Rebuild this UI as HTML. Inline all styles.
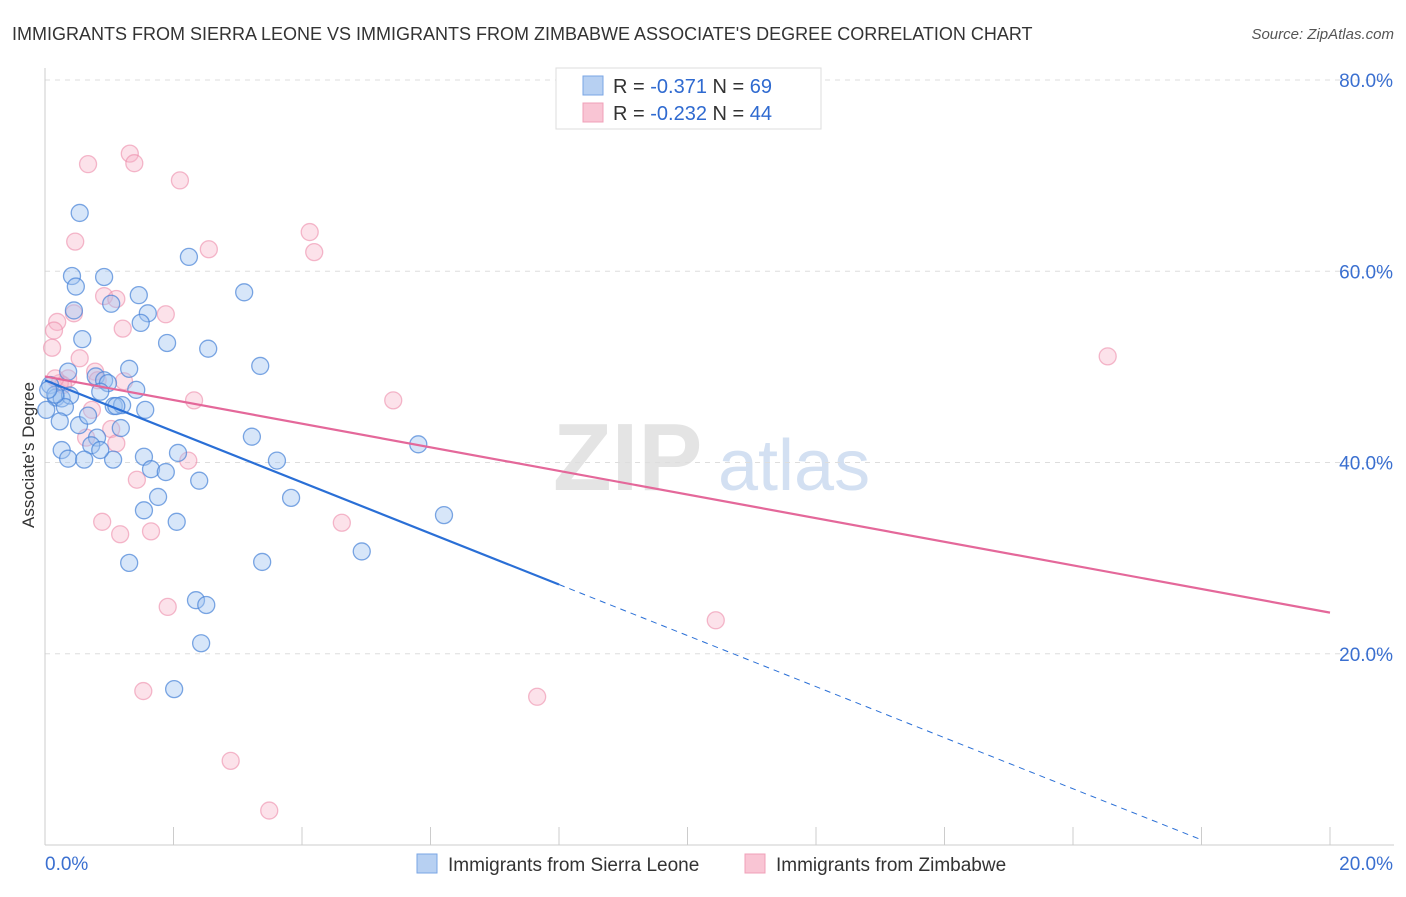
<!DOCTYPE html>
<html><head><meta charset="utf-8">
<style>
body{margin:0;background:#fff;font-family:"Liberation Sans",sans-serif;}
svg text{font-family:"Liberation Sans",sans-serif;}
</style></head>
<body>
<svg id="chart" width="1406" height="892" viewBox="0 0 1406 892" xmlns="http://www.w3.org/2000/svg">
<text x="12" y="40" font-size="18" fill="#333">IMMIGRANTS FROM SIERRA LEONE VS IMMIGRANTS FROM ZIMBABWE ASSOCIATE'S DEGREE CORRELATION CHART</text>
<text x="1394" y="39" font-size="15" fill="#555" font-style="italic" text-anchor="end">Source: ZipAtlas.com</text>
<g>
<text x="553" y="490" font-size="96" fill="#e4e4e4" font-family="Liberation Serif" font-weight="bold">ZIP</text>
<text x="718" y="490" font-size="72" fill="#d3e0f2">atlas</text>
</g>
<g id="grid"></g>
<g id="axes"></g>
<g id="points"></g>
<g id="trends"></g>
<text transform="translate(34,455) rotate(-90)" font-size="17" fill="#333" text-anchor="middle">Associate's Degree</text>
<g>
<rect x="556" y="68" width="265" height="61" fill="#fff" stroke="#ddd"/>
<g>
<rect x="583" y="76" width="20" height="19" fill="#b7d0f2" stroke="#7aa6e4"/>
<text x="613" y="93" font-size="20" fill="#333">R = <tspan fill="#2f6ad0"> -0.371</tspan>   N = <tspan fill="#2f6ad0">69</tspan></text>
</g>
<g>
<rect x="583" y="103" width="20" height="19" fill="#f9c5d4" stroke="#f0a0b8"/>
<text x="613" y="120" font-size="20" fill="#333">R = <tspan fill="#2f6ad0">-0.232</tspan>   N = <tspan fill="#2f6ad0">44</tspan></text>
</g>
</g>
<g>
<g>
<rect x="417" y="854" width="20" height="19" fill="#b7d0f2" stroke="#7aa6e4"/>
<text x="448" y="871" font-size="19" fill="#333">Immigrants from Sierra Leone</text>
</g>
<g>
<rect x="745" y="854" width="20" height="19" fill="#f9c5d4" stroke="#f0a0b8"/>
<text x="776" y="871" font-size="19" fill="#333">Immigrants from Zimbabwe</text>
</g>
</g>
</svg>
<script>
const yTicks=[20,40,60,80];
const yTickLabels=["20.0%","40.0%","60.0%","80.0%"];
const xTickLabels=["0.0%","20.0%"];
const blueX=[0.54,0.42,0.92,0.48,0.45,1.03,1.46,1.60,1.49,2.24,3.10,0.58,1.90,2.54,3.35,1.31,0.79,0.36,0.92,0.98,0.08,1.42,0.17,0.26,0.39,0.86,0.02,0.31,1.07,1.20,1.56,0.23,0.53,0.67,1.18,0.81,3.22,5.81,0.26,0.36,0.72,0.61,1.06,1.54,1.65,1.88,2.07,3.61,2.40,1.76,3.83,1.54,2.05,6.21,4.93,1.31,3.38,2.35,2.51,2.43,2.01,0.16,0.05,1.11,0.86];
const blueY=[66.1,59.5,59.4,58.4,55.9,56.6,57.5,55.6,54.6,61.5,57.8,52.9,52.5,51.9,50.1,49.8,49.0,49.5,48.6,48.3,48.1,47.6,46.8,46.7,47.0,47.4,45.5,45.8,45.9,46.0,45.5,44.3,43.9,44.9,43.6,42.6,42.7,41.9,41.3,40.4,41.8,40.3,40.3,40.6,39.3,39.0,41.0,40.2,38.1,36.4,36.3,35.0,33.8,34.5,30.7,29.5,29.6,25.6,25.1,21.1,16.3,47.1,47.6,45.9,41.3];
const pinkX=[0.67,1.32,1.39,2.10,0.47,2.55,4.12,4.19,0.92,1.11,0.45,1.88,0.19,0.14,0.11,1.21,0.54,16.54,0.78,0.36,0.23,1.23,0.82,2.32,5.42,0.73,1.03,0.64,1.11,2.23,1.43,0.89,1.17,1.65,4.62,1.91,10.44,1.53,7.66,2.89,3.49,0.28,0.16];
const pinkY=[71.2,72.3,71.3,69.5,63.1,62.3,64.1,62.0,57.4,57.1,55.6,55.5,54.7,53.8,52.0,54.0,50.9,51.1,49.5,48.8,48.3,48.5,48.6,46.5,46.5,45.5,43.5,42.6,42.0,40.2,38.2,33.8,32.5,32.8,33.7,24.9,23.5,16.1,15.5,8.8,3.6,48.1,48.8];
const blueTrend=[48.6,-4.8];
const pinkTrend=[49.0,24.3];
const blueSolidEnd=8;
const blueDashEnd=18;

const NS="http://www.w3.org/2000/svg";
const X0=45,X1=1330,Y0=845,Y80=80;
const sx=v=>X0+(X1-X0)*v/20;
const sy=v=>Y0-(Y0-Y80)*v/80;
function mk(tag,attrs,parent){const e=document.createElementNS(NS,tag);for(const k in attrs)e.setAttribute(k,attrs[k]);parent.appendChild(e);return e;}
const grid=document.getElementById('grid'),axes=document.getElementById('axes'),pts=document.getElementById('points'),tr=document.getElementById('trends');
yTicks.forEach((t,i)=>{
  const l=mk('line',{x1:X0,x2:1394,y1:sy(t),y2:sy(t),stroke:'#ddd','stroke-dasharray':'5,5'},grid);
  
  
  const tx=mk('text',{x:1393,y:sy(t)+7,'font-size':19,fill:'#3a6fd0','text-anchor':'end'},axes);
  tx.textContent=yTickLabels[i];
  
  
});
const ya=mk('line',{x1:X0,x2:X0,y1:68,y2:Y0,stroke:'#ccc'},axes);


const xa=mk('line',{x1:X0,x2:1394,y1:Y0,y2:Y0,stroke:'#ccc'},axes);


for(let i=0;i<=10;i++){
  const t=mk('line',{x1:sx(i*2),x2:sx(i*2),y1:Y0,y2:Y0-18,stroke:'#ccc'},axes);
  
  
}
const xl0=mk('text',{x:45,y:870,'font-size':19,fill:'#3a6fd0'},axes);
xl0.textContent=xTickLabels[0];


const xl1=mk('text',{x:1393,y:870,'font-size':19,fill:'#3a6fd0','text-anchor':'end'},axes);
xl1.textContent=xTickLabels[1];


pinkX.forEach((x,i)=>{
  const c=mk('circle',{cx:sx(x),cy:sy(pinkY[i]),r:8.5,fill:'rgba(246,178,200,0.38)',stroke:'rgba(236,140,170,0.6)','stroke-width':1.3},pts);
  
  
});
blueX.forEach((x,i)=>{
  const c=mk('circle',{cx:sx(x),cy:sy(blueY[i]),r:8.5,fill:'rgba(160,195,240,0.42)',stroke:'rgba(70,130,215,0.7)','stroke-width':1.3},pts);
  
  
});
const bAt=x=>blueTrend[0]+(blueTrend[1]-blueTrend[0])*x/20;
const b1=mk('line',{x1:sx(0),y1:sy(bAt(0)),x2:sx(blueSolidEnd),y2:sy(bAt(blueSolidEnd)),stroke:'#2a6fd6','stroke-width':2.2},tr);


const b2=mk('line',{x1:sx(blueSolidEnd),y1:sy(bAt(blueSolidEnd)),x2:sx(blueDashEnd),y2:sy(bAt(blueDashEnd)),stroke:'#2a6fd6','stroke-width':1,'stroke-dasharray':'6,5'},tr);


const p1=mk('line',{x1:sx(0),y1:sy(pinkTrend[0]),x2:sx(20),y2:sy(pinkTrend[1]),stroke:'#e4689a','stroke-width':2.2},tr);


</script>
</body></html>
